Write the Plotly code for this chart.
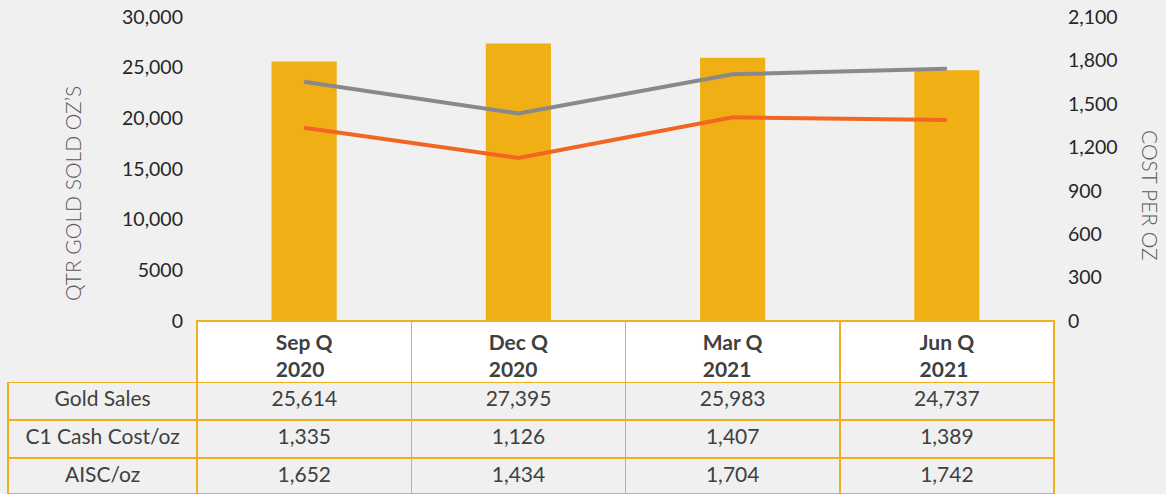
import plotly.graph_objects as go

categories = ["Sep Q 2020", "Dec Q 2020", "Mar Q 2021", "Jun Q 2021"]
header_labels = ["Sep Q<br>2020", "Dec Q<br>2020", "Mar Q<br>2021", "Jun Q<br>2021"]
gold_sales = [25614, 27395, 25983, 24737]
c1_cost = [1335, 1126, 1407, 1389]
aisc = [1652, 1434, 1704, 1742]
row_labels = ["Gold Sales", "C1 Cash Cost/oz", "AISC/oz"]
left_ticks = [0, 5000, 10000, 15000, 20000, 25000, 30000]
left_ticktext = ["0", "5000", "10,000", "15,000", "20,000", "25,000", "30,000"]
right_ticks = [0, 300, 600, 900, 1200, 1500, 1800, 2100]

W, H = 1166, 494
ml, mr, mt, mb = 8, 112, 17, 0
pw = W - ml - mr
ph = H - mt - mb

def px_x(x):
    return (x - ml) / pw

def px_y(y):
    return (H - mb - y) / ph

BG = "#F0F0F0"
GOLD = "#F0AF14"
BORDER = "#F0B01E"
TXT = "#404040"
FONT = "Lato"

fig = go.Figure()

fig.add_trace(go.Bar(x=categories, y=gold_sales, marker_color=GOLD,
                     marker_line_width=0, name="Gold Sales", yaxis="y"))
fig.add_trace(go.Scatter(x=categories, y=aisc, mode="lines",
                         line=dict(color="#898989", width=4), name="AISC/oz", yaxis="y2"))
fig.add_trace(go.Scatter(x=categories, y=c1_cost, mode="lines",
                         line=dict(color="#F26522", width=4), name="C1 Cash Cost/oz", yaxis="y2"))

x0 = px_x(197)
y_axis_bottom = px_y(321)

# header table (category labels)
fig.add_trace(go.Table(
    domain=dict(x=[x0, 1], y=[px_y(382.5), y_axis_bottom]),
    columnwidth=[214] * 4,
    header=dict(values=[f"<b>{h}</b>" for h in header_labels],
                fill_color="white", line=dict(color=BORDER, width=1.5),
                font=dict(family=FONT, size=21, color=TXT), align="center", height=61),
    cells=dict(values=[[] for _ in header_labels], height=1,
               fill_color="white", line=dict(color=BORDER, width=1.5)),
))

fmt = lambda v: f"{v:,}"
rows = [
    [row_labels[0]] + [fmt(v) for v in gold_sales],
    [row_labels[1]] + [fmt(v) for v in c1_cost],
    [row_labels[2]] + [fmt(v) for v in aisc],
]
row_edges = [382.5, 420.5, 458, 494]

for r, vals in enumerate(rows):
    top, bot = row_edges[r], row_edges[r + 1]
    hgt = bot - top - 0.3
    fig.add_trace(go.Table(
        domain=dict(x=[0, 1], y=[px_y(bot), px_y(top)]),
        columnwidth=[189] + [214] * 4,
        header=dict(values=vals, fill_color=BG, line=dict(color=BORDER, width=1.5),
                    font=dict(family=FONT, size=21, color=TXT), align="center",
                    height=hgt),
        cells=dict(values=[[] for _ in vals], height=1, fill_color=BG,
                   line=dict(color=BORDER, width=1.5)),
    ))

fig.update_layout(
    width=W, height=H,
    margin=dict(l=ml, r=mr, t=mt, b=mb, autoexpand=False),
    paper_bgcolor=BG, plot_bgcolor=BG,
    showlegend=False,
    bargap=0.696,
    font=dict(family=FONT, color="#262626", size=19),
    xaxis=dict(domain=[x0, 1], showticklabels=False, showgrid=False,
               zeroline=False, showline=False, ticks="", automargin=False),
    yaxis=dict(domain=[y_axis_bottom, 1], range=[0, 30000], tickvals=left_ticks,
               ticktext=left_ticktext, showgrid=False, zeroline=False, automargin=False,
               ticklabelstandoff=13, tickfont=dict(size=19.5, color="#262626")),
    yaxis2=dict(domain=[y_axis_bottom, 1], range=[0, 2100], tickvals=right_ticks,
                tickformat=",", overlaying="y", side="right", showgrid=False,
                zeroline=False, ticklabelstandoff=13, automargin=False,
                tickfont=dict(size=19.5, color="#262626")),
    annotations=[
        dict(text="QTR GOLD SOLD OZ\u2019S", textangle=-90, xref="paper", yref="paper",
             x=px_x(72), y=px_y(194), showarrow=False, xanchor="center", yanchor="middle",
             font=dict(family=FONT, size=21, color="#595959", weight=300)),
        dict(text="COST PER OZ", textangle=90, xref="paper", yref="paper",
             x=px_x(1150), y=px_y(195), showarrow=False, xanchor="center", yanchor="middle",
             font=dict(family=FONT, size=21, color="#595959", weight=300)),
    ],
)

fig.write_html("out.html", config={"displayModeBar": False},
               post_script="document.body.style.margin='0px';"
                           "document.body.style.background='#F0F0F0';")
